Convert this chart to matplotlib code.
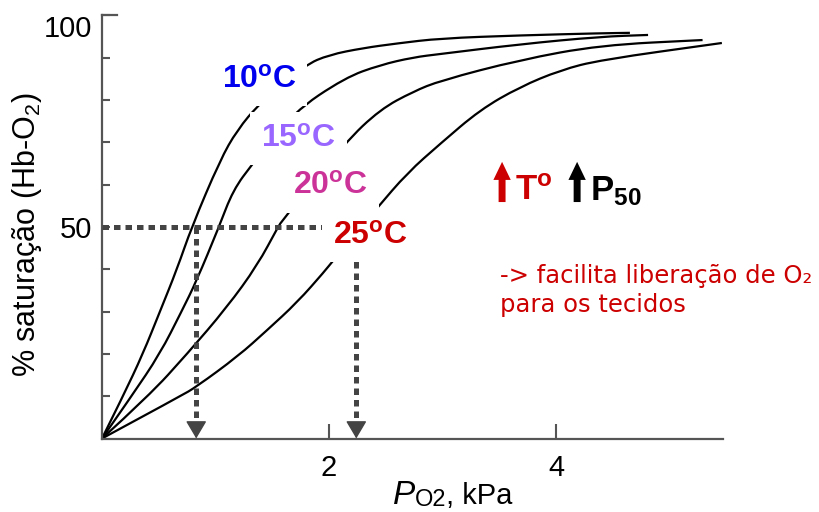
import matplotlib
matplotlib.use("Agg")
import matplotlib.pyplot as plt
from matplotlib.path import Path
from matplotlib.patches import PathPatch

plt.rcParams["font.family"] = ["Liberation Sans", "DejaVu Sans"]
plt.rcParams["mathtext.fontset"] = "custom"
plt.rcParams["mathtext.rm"] = "Liberation Sans"
plt.rcParams["mathtext.it"] = "Liberation Sans:italic"
plt.rcParams["mathtext.bf"] = "Liberation Sans:bold"

# curves (PO2 in kPa, % saturation)
x_10 = [0, 0.185, 0.36, 0.51, 0.66, 0.79, 1.04, 1.19, 1.39, 1.79, 2.00, 2.30, 2.60, 2.98, 3.68, 4.39, 4.65]
y_10 = [0, 10, 20, 30, 40, 50, 65.8, 72.9, 79.3, 88.3, 90.7, 92.3, 93.4, 94.6, 95.3, 95.8, 95.9]

x_15 = [0, 0.26, 0.51, 0.70, 0.83, 1.03, 1.154, 1.33, 1.68, 2.14, 2.45, 2.74, 2.98, 3.68, 4.39, 4.81]
y_15 = [0, 10, 20, 30, 37.1, 50, 58.7, 65.1, 77.0, 85.3, 88.3, 90.1, 90.9, 93.2, 95.0, 95.4]

x_20 = [0, 0.41, 0.75, 1.10, 1.37, 1.55, 1.59, 2.14, 2.45, 2.74, 2.98, 3.68, 4.39, 5.29]
y_20 = [0, 10, 20, 31, 41, 50, 51.6, 69.9, 77.8, 82.0, 84.6, 89.5, 93.0, 94.2]

x_25 = [0, 0.69, 0.83, 1.20, 1.45, 1.72, 1.96, 2.04, 2.42, 2.69, 2.98, 3.33, 3.68, 4.04, 4.39, 5.46]
y_25 = [0, 10, 12.2, 19.5, 25.5, 32.2, 39.5, 42.2, 54.4, 62.8, 69.7, 77.7, 83.1, 87.1, 89.5, 93.5]

curves = [(x_10, y_10), (x_15, y_15), (x_20, y_20), (x_25, y_25)]

temp_labels = ["10", "15", "20", "25"]
temp_colors = ["#0000ee", "#9966ff", "#cc3399", "#cc0000"]

p50_marks = [0.83, 2.24]
y_ticks = [50, 100]
y_minor = [10, 20, 30, 40, 60, 70, 80, 90]
x_ticks = [2, 4]

axis_col = "#555555"
dash_col = "#444444"


def smooth_path(xs, ys):
    # quadratic bezier through midpoints, read points act as control points
    verts = [(xs[0], ys[0])]
    codes = [Path.MOVETO]
    for i in range(1, len(xs) - 1):
        verts += [(xs[i], ys[i]),
                  ((xs[i] + xs[i + 1]) / 2, (ys[i] + ys[i + 1]) / 2)]
        codes += [Path.CURVE3, Path.CURVE3]
    verts.append((xs[-1], ys[-1]))
    codes.append(Path.LINETO)
    return Path(verts, codes)


fig = plt.figure(figsize=(8.2, 5.12), dpi=100)
ax = fig.add_axes([102 / 820, 73.5 / 512, 621 / 820, 423 / 512])
ax.set_xlim(0, 5.47)
ax.set_ylim(0, 100)

for xs, ys in curves:
    ax.add_patch(PathPatch(smooth_path(xs, ys), fc="none", ec="black",
                           lw=1.6, zorder=2, clip_on=False))

# dotted guide lines at 50 %
ax.plot([0, p50_marks[-1]], [50, 50], color=dash_col, lw=3.6,
        dashes=(1.3, 1.0), zorder=3)
for xp in p50_marks:
    ax.plot([xp, xp], [50, 3.2], color=dash_col, lw=3.6,
            dashes=(1.3, 1.0), zorder=3)
    ax.annotate("", xy=(xp, 0), xytext=(0, 11), textcoords="offset points",
                arrowprops=dict(arrowstyle="-|>,head_length=1.1,head_width=0.65",
                                mutation_scale=10, color=dash_col, lw=1,
                                shrinkA=0, shrinkB=0), zorder=3)

# temperature labels (white boxes cut the curves)
label_pos = [(1.383, 84.8), (1.727, 70.9), (2.009, 59.6), (2.361, 47.9)]
for t, c, (lx, ly) in zip(temp_labels, temp_colors, label_pos):
    ax.text(lx, ly, t + r"$^{\mathbf{o}}$C", color=c, fontsize=23,
            fontweight="bold", ha="center", va="center", zorder=5,
            bbox=dict(boxstyle="square,pad=0.35", fc="white", ec="none"))

# up arrows: T and P50
for ax_x, col in [(3.524, "#cc0000"), (4.185, "black")]:
    ax.annotate("", xy=(ax_x, 65.4), xytext=(ax_x, 55.9),
                arrowprops=dict(arrowstyle="simple,head_length=1.3,head_width=1.25,tail_width=0.5",
                                mutation_scale=10, color=col, lw=0,
                                shrinkA=0, shrinkB=0))
ax.text(3.639, 56.4, r"T$^{\mathbf{o}}$", color="#cc0000", fontsize=25,
        fontweight="bold", va="baseline", ha="left")
ax.text(4.30, 56.4, r"P$_{\mathbf{50}}$", color="black", fontsize=25,
        fontweight="bold", va="baseline", ha="left")

ax.text(3.507, 36.8, "-> facilita liberação de O₂", color="#cc0000",
        fontsize=17.5, family="DejaVu Sans", va="baseline", ha="left")
ax.text(3.507, 29.9, "para os tecidos", color="#cc0000",
        fontsize=17.5, family="DejaVu Sans", va="baseline", ha="left")

# axes styling
for s in ["top", "right"]:
    ax.spines[s].set_visible(False)
for s in ["left", "bottom"]:
    ax.spines[s].set_color(axis_col)
    ax.spines[s].set_linewidth(1.6)

ax.set_yticks(y_ticks, labels=[str(v) for v in y_ticks])
ax.set_yticks(y_minor, minor=True)
ax.set_xticks(x_ticks, labels=[str(v) for v in x_ticks])
ax.tick_params(axis="y", which="both", direction="in", length=6, width=1.5,
               color=axis_col, labelsize=21, pad=7)
ax.tick_params(axis="x", which="major", direction="in", length=11, width=1.5,
               color=axis_col, labelsize=21, pad=11)
for lbl in ax.get_yticklabels():
    if lbl.get_text() == "100":
        lbl.set_verticalalignment("top")
ax.axhline(100, xmin=0, xmax=15 / 621, color=axis_col, lw=1.6, clip_on=False)

ax.text(-0.120, 0.481, "% saturação (Hb-O$_2$)", transform=ax.transAxes,
        rotation=90, ha="center", va="center", fontsize=22)

# x label: italic P, smaller O2, then ", kPa"
ax.text(0.4686, -0.155, "P", style="italic", fontsize=24,
        transform=ax.transAxes, ha="left", va="baseline")
ax.text(0.5035, -0.160, "O2", fontsize=17, transform=ax.transAxes,
        ha="left", va="baseline")
ax.text(0.5545, -0.155, ", kPa", fontsize=21, transform=ax.transAxes,
        ha="left", va="baseline")

fig.savefig("out.png", dpi=100)
